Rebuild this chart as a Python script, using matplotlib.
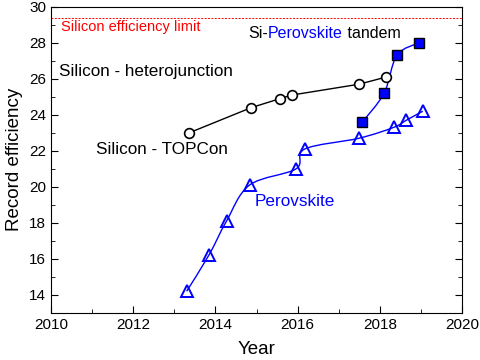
"""Record solar cell efficiencies: silicon, perovskite and Si-perovskite tandem."""
import matplotlib
matplotlib.use("Agg")
import matplotlib.pyplot as plt
import numpy as np
from matplotlib.path import Path
from matplotlib.patches import PathPatch
from matplotlib.ticker import MultipleLocator

plt.rcParams["font.family"] = ["Liberation Sans", "DejaVu Sans"]

si_limit = 29.4

si_year = [2013.36, 2014.87, 2015.57, 2015.86, 2017.49, 2018.15]
si_eff = [23.0, 24.4, 24.9, 25.1, 25.7, 26.1]

tandem_year = [2017.57, 2018.10, 2018.41, 2018.94]
tandem_eff = [23.6, 25.2, 27.3, 28.0]

pero_year = [2013.30, 2013.84, 2014.27, 2014.83, 2015.96, 2016.17,
             2017.49, 2018.33, 2018.64, 2019.04]
pero_eff = [14.2, 16.2, 18.1, 20.1, 21.0, 22.1, 22.7, 23.3, 23.7, 24.2]


def smooth_path(xs, ys, k=1/6):
    # Catmull-Rom style bezier through the points (only a drawing style)
    p = np.column_stack([xs, ys])
    verts = [p[0]]
    codes = [Path.MOVETO]
    for i in range(len(p) - 1):
        p0 = p[i - 1] if i > 0 else p[i]
        p3 = p[i + 2] if i + 2 < len(p) else p[i + 1]
        c1 = p[i] + (p[i + 1] - p0) * k
        c2 = p[i + 1] - (p3 - p[i]) * k
        verts += [c1, c2, p[i + 1]]
        codes += [Path.CURVE4] * 3
    return Path(verts, codes)


def main():
    fig = plt.figure(figsize=(4.8, 3.6), dpi=100)
    ax = fig.add_axes([0.106, 0.131, 0.857, 0.850])
    ax.set_xlim(2010, 2020)
    ax.set_ylim(13, 30)

    ax.axhline(si_limit, color="red", ls=(0, (2, 1.5)), lw=0.7)

    ax.plot(si_year, si_eff, color="black", lw=1, marker="o", ms=7,
            mfc="white", mec="black", mew=1.2, zorder=3)

    for xs, ys in [(pero_year, pero_eff), (tandem_year, tandem_eff)]:
        ax.add_patch(PathPatch(smooth_path(xs, ys), fc="none", ec="blue", lw=1, zorder=2))
    ax.plot(pero_year, pero_eff, ls="none", marker="^", ms=8.5,
            mfc="none", mec="blue", mew=1.4, zorder=3)
    ax.plot(tandem_year, tandem_eff, ls="none", marker="s", ms=6.5,
            mfc="blue", mec="black", mew=1, zorder=3)

    fs = 12.3
    ax.text(2010.25, 28.9, "Silicon efficiency limit", color="red", fontsize=10.5, va="center")
    ax.text(2010.2, 26.4, "Silicon - heterojunction", fontsize=fs, va="center")
    ax.text(2011.09, 22.05, "Silicon - TOPCon", fontsize=fs, va="center")
    ax.text(2014.96, 19.17, "Perovskite", color="blue", fontsize=fs, va="center")
    fs2 = 11.5
    t1 = ax.text(2014.79, 28.5, "Si-", fontsize=fs2, va="center")
    t2 = ax.annotate("Perovskite", xy=(1, 0), xycoords=t1, va="bottom",
                     color="blue", fontsize=fs2)
    ax.annotate(" tandem", xy=(1, 0), xycoords=t2, va="bottom", fontsize=fs2)

    ax.xaxis.set_major_locator(MultipleLocator(2))
    ax.xaxis.set_minor_locator(MultipleLocator(1))
    ax.yaxis.set_major_locator(MultipleLocator(2))
    ax.yaxis.set_minor_locator(MultipleLocator(1))
    ax.yaxis.set_major_formatter(lambda v, p: f"{v:.0f}" if v >= 14 else "")
    ax.tick_params(which="both", direction="in", right=True, labelsize=11)
    ax.tick_params(which="major", length=5)
    ax.tick_params(which="minor", length=3)
    ax.set_xlabel("Year", fontsize=13.5, labelpad=7)
    ax.set_ylabel("Record efficiency", fontsize=13.5)

    fig.savefig("out.png", dpi=100)


if __name__ == "__main__":
    main()
